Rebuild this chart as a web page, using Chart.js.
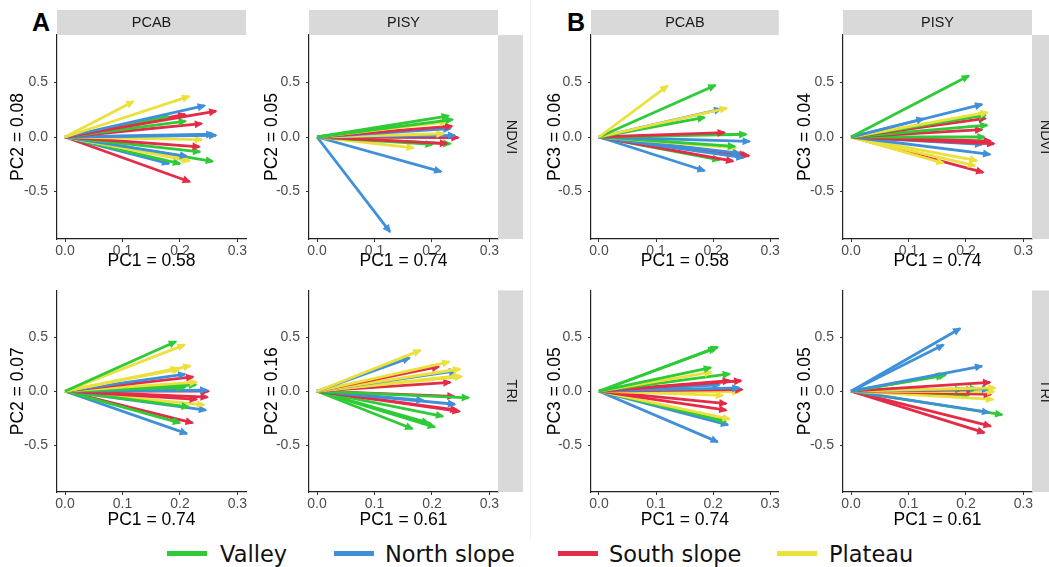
<!DOCTYPE html>
<html lang="en">
<head>
<meta charset="UTF-8">
<title>PCA loadings by site</title>
<script src="https://cdn.jsdelivr.net/npm/chart.js"></script>
<style>
    body {
        margin: 0;
        background: #fff;
        width: 1049px;
        height: 567px;
        position: relative;
        overflow: hidden;
        font-family: 'Liberation Sans', Arial, sans-serif;
    }
    canvas {
        position: absolute;
    }
    .tag {
        position: absolute;
        font-size: 25px;
        line-height: 25px;
        font-weight: bold;
        color: #000;
    }
    .sep {
        position: absolute;
        left: 530px;
        top: 0;
        width: 1px;
        height: 540px;
        background: #efefef;
    }
    .key {
        position: absolute;
        top: 551px;
        width: 40px;
        height: 5px;
    }
    .keytxt {
        position: absolute;
        top: 541px;
        font-family: 'DejaVu Sans', sans-serif;
        font-size: 22.5px;
        line-height: 26px;
        color: #111;
        white-space: nowrap;
    }
</style>
</head>
<body>
<div class="sep"></div>
<div class="tag" style="left:32px; top:10px;">A</div>
<div class="tag" style="left:567px; top:10px;">B</div>

<canvas id="a1" width="250" height="276" style="left:0px; top:0px;"></canvas>
<canvas id="a2" width="280" height="276" style="left:250px; top:0px;"></canvas>
<canvas id="a3" width="250" height="258" style="left:0px; top:276px;"></canvas>
<canvas id="a4" width="280" height="258" style="left:250px; top:276px;"></canvas>
<canvas id="b1" width="250" height="276" style="left:531px; top:0px;"></canvas>
<canvas id="b2" width="268" height="276" style="left:781px; top:0px;"></canvas>
<canvas id="b3" width="250" height="258" style="left:531px; top:276px;"></canvas>
<canvas id="b4" width="268" height="258" style="left:781px; top:276px;"></canvas>

<div id="legend"></div>

<script>
// site groups and their colours
const groupNames = ['Valley', 'North slope', 'South slope', 'Plateau'];
const groupColors = ['#2ecb36', '#3f8fd9', '#e42b47', '#ece03c'];

// axis ticks
const xTickVals = [0, 0.1, 0.2, 0.3];
const xTickLabels = ['0.0', '0.1', '0.2', '0.3'];
const yTickVals = [-0.5, 0, 0.5];
const yTickLabels = ['-0.5', '0.0', '0.5'];

// loadings: [group index, PC1, second component]
// A: PC1 vs PC2
const aPcabNdvi = [
    [3, 0.119, 0.326], [3, 0.216, 0.372], [1, 0.243, 0.287], [2, 0.263, 0.238],
    [0, 0.180, 0.190], [2, 0.209, 0.207], [0, 0.210, 0.146], [2, 0.238, 0.122],
    [1, 0.263, 0.015], [1, 0.258, 0.025], [3, 0.238, -0.024], [2, 0.234, -0.090],
    [0, 0.235, -0.137], [1, 0.212, -0.177], [3, 0.217, -0.220], [3, 0.214, -0.205],
    [0, 0.257, -0.223], [0, 0.200, -0.244], [1, 0.181, -0.244], [2, 0.217, -0.410]
];
const aPisyNdvi = [
    [0, 0.229, 0.194], [0, 0.236, 0.160], [3, 0.226, 0.139], [2, 0.235, 0.099],
    [1, 0.232, 0.077], [3, 0.220, 0.030], [1, 0.240, 0.015], [2, 0.246, -0.006],
    [2, 0.226, -0.060], [0, 0.232, -0.062], [0, 0.201, -0.068], [3, 0.168, -0.099],
    [1, 0.216, -0.318], [1, 0.127, -0.870]
];
const aPcabTri = [
    [0, 0.193, 0.461], [3, 0.208, 0.430], [3, 0.218, 0.236], [3, 0.200, 0.206],
    [3, 0.196, 0.212], [1, 0.209, 0.158], [2, 0.223, 0.133], [3, 0.229, 0.085],
    [0, 0.228, 0.060], [0, 0.206, 0.036], [0, 0.210, 0.040], [1, 0.247, 0.009],
    [2, 0.250, 0.000], [2, 0.248, -0.055], [2, 0.229, -0.076], [0, 0.215, -0.145],
    [3, 0.242, -0.127], [1, 0.245, -0.176], [0, 0.200, -0.294], [2, 0.222, -0.294],
    [1, 0.212, -0.394]
];
const aPisyTri = [
    [3, 0.180, 0.379], [1, 0.161, 0.309], [3, 0.230, 0.273], [2, 0.212, 0.227],
    [3, 0.249, 0.206], [1, 0.242, 0.188], [3, 0.252, 0.136], [3, 0.248, 0.145],
    [2, 0.232, 0.082], [0, 0.264, -0.061], [2, 0.239, -0.048], [1, 0.185, -0.085],
    [1, 0.240, -0.121], [2, 0.248, -0.188], [2, 0.244, -0.175], [0, 0.219, -0.233],
    [0, 0.194, -0.294], [0, 0.205, -0.333], [0, 0.166, -0.348]
];
// B: PC1 vs PC3
const bPcabNdvi = [
    [3, 0.120, 0.469], [0, 0.204, 0.475], [3, 0.224, 0.265], [1, 0.214, 0.256],
    [0, 0.185, 0.179], [2, 0.220, 0.040], [0, 0.258, 0.025], [1, 0.264, -0.040],
    [0, 0.238, -0.086], [3, 0.240, -0.100], [1, 0.246, -0.148], [1, 0.253, -0.190],
    [2, 0.263, -0.173], [2, 0.258, -0.165], [2, 0.235, -0.222], [0, 0.211, -0.210],
    [1, 0.185, -0.309]
];
const bPisyNdvi = [
    [0, 0.205, 0.562], [1, 0.228, 0.299], [1, 0.126, 0.167], [3, 0.237, 0.225],
    [0, 0.234, 0.200], [2, 0.234, 0.170], [0, 0.237, 0.108], [2, 0.228, 0.068],
    [0, 0.232, 0.000], [2, 0.243, -0.037], [2, 0.249, -0.062], [1, 0.228, -0.068],
    [1, 0.242, -0.160], [3, 0.161, -0.240], [3, 0.219, -0.216], [3, 0.216, -0.262],
    [2, 0.230, -0.324]
];
const bPcabTri = [
    [0, 0.208, 0.409], [0, 0.204, 0.400], [0, 0.196, 0.218], [3, 0.197, 0.176],
    [0, 0.229, 0.161], [2, 0.249, 0.097], [2, 0.229, 0.097], [1, 0.211, 0.060],
    [1, 0.246, 0.030], [2, 0.251, 0.015], [3, 0.246, -0.006], [3, 0.217, -0.039],
    [2, 0.223, -0.115], [2, 0.223, -0.176], [3, 0.229, -0.258], [0, 0.222, -0.279],
    [1, 0.226, -0.312], [1, 0.208, -0.470]
];
const bPisyTri = [
    [1, 0.190, 0.582], [1, 0.161, 0.430], [1, 0.228, 0.233], [0, 0.165, 0.152],
    [0, 0.160, 0.145], [2, 0.242, 0.082], [3, 0.251, 0.030], [1, 0.240, 0.021],
    [0, 0.219, 0.024], [2, 0.213, 0.012], [0, 0.193, 0.015], [3, 0.249, -0.006],
    [2, 0.243, -0.030], [3, 0.247, -0.076], [0, 0.205, -0.036], [1, 0.240, -0.197],
    [0, 0.263, -0.218], [2, 0.243, -0.324], [2, 0.232, -0.385]
];

// facet panels: box sizes are in px of each canvas
const panels = [
    { id: 'a1', rows: aPcabNdvi, yTitle: 'PC2 = 0.08', xTitle: 'PC1 = 0.58', top: 'PCAB', side: null,   yw: 57, ytp: 8,  padR: 4,  padT: 35, xh: 34, padB: 3 },
    { id: 'a2', rows: aPisyNdvi, yTitle: 'PC2 = 0.05', xTitle: 'PC1 = 0.74', top: 'PISY', side: 'NDVI', yw: 59, ytp: 12, padR: 32, padT: 35, xh: 34, padB: 3 },
    { id: 'a3', rows: aPcabTri,  yTitle: 'PC2 = 0.07', xTitle: 'PC1 = 0.74', top: null,   side: null,   yw: 57, ytp: 8,  padR: 4,  padT: 12, xh: 40, padB: 2 },
    { id: 'a4', rows: aPisyTri,  yTitle: 'PC2 = 0.16', xTitle: 'PC1 = 0.61', top: null,   side: 'TRI',  yw: 59, ytp: 12, padR: 32, padT: 12, xh: 40, padB: 2 },
    { id: 'b1', rows: bPcabNdvi, yTitle: 'PC3 = 0.06', xTitle: 'PC1 = 0.58', top: 'PCAB', side: null,   yw: 60, ytp: 14, padR: 2,  padT: 35, xh: 34, padB: 3 },
    { id: 'b2', rows: bPisyNdvi, yTitle: 'PC3 = 0.04', xTitle: 'PC1 = 0.74', top: 'PISY', side: 'NDVI', yw: 62, ytp: 14, padR: 17, padT: 35, xh: 34, padB: 3 },
    { id: 'b3', rows: bPcabTri,  yTitle: 'PC3 = 0.05', xTitle: 'PC1 = 0.74', top: null,   side: null,   yw: 60, ytp: 14, padR: 2,  padT: 12, xh: 40, padB: 2 },
    { id: 'b4', rows: bPisyTri,  yTitle: 'PC3 = 0.05', xTitle: 'PC1 = 0.61', top: null,   side: 'TRI',  yw: 62, ytp: 14, padR: 17, padT: 12, xh: 40, padB: 2 }
];

// closed arrow head at the end of every segment
const arrowHeads = {
    id: 'arrowHeads',
    afterDatasetDraw(chart, args) {
        const pts = args.meta.data;
        if (pts.length < 2) return;
        const a = pts[0], b = pts[1];
        const ang = Math.atan2(b.y - a.y, b.x - a.x);
        const ctx = chart.ctx;
        ctx.save();
        ctx.translate(b.x, b.y);
        ctx.rotate(ang);
        ctx.beginPath();
        ctx.moveTo(1.5, 0);
        ctx.lineTo(-7, 4);
        ctx.lineTo(-7, -4);
        ctx.closePath();
        ctx.fillStyle = chart.data.datasets[args.index].borderColor;
        ctx.fill();
        ctx.restore();
    }
};

// grey facet strips (top = species, right = index)
const facetStrips = {
    id: 'facetStrips',
    afterDraw(chart, args, opts) {
        const { ctx, chartArea: ca } = chart;
        ctx.save();
        ctx.font = '14.5px "Liberation Sans", Arial, sans-serif';
        ctx.textAlign = 'center';
        ctx.textBaseline = 'middle';
        if (opts.top) {
            ctx.fillStyle = '#d9d9d9';
            ctx.fillRect(ca.left, ca.top - 25, ca.right - ca.left, 25);
            ctx.fillStyle = '#1a1a1a';
            ctx.fillText(opts.top, (ca.left + ca.right) / 2, ca.top - 12);
        }
        if (opts.side) {
            ctx.fillStyle = '#d9d9d9';
            ctx.fillRect(ca.right, ca.top, 25, ca.bottom - ca.top);
            ctx.translate(ca.right + 13, (ca.top + ca.bottom) / 2);
            ctx.rotate(Math.PI / 2);
            ctx.fillStyle = '#1a1a1a';
            ctx.fillText(opts.side, 0, 0);
        }
        ctx.restore();
    }
};

const tickFont = { family: '"Liberation Sans", Arial, sans-serif', size: 14 };
const titleFont = { family: '"Liberation Sans", Arial, sans-serif', size: 17.5 };

panels.forEach(p => {
    const datasets = p.rows.map(r => ({
        data: [{ x: 0, y: 0 }, { x: r[1], y: r[2] }],
        showLine: true,
        borderColor: groupColors[r[0]],
        borderWidth: 2.8,
        pointRadius: 0,
        borderCapStyle: 'butt'
    }));

    new Chart(document.getElementById(p.id), {
        type: 'scatter',
        data: { datasets },
        options: {
            responsive: false,
            animation: false,
            devicePixelRatio: 1,
            layout: { padding: { left: 0, right: p.padR, top: p.padT, bottom: p.padB } },
            plugins: {
                legend: { display: false },
                tooltip: { enabled: false },
                facetStrips: { top: p.top, side: p.side }
            },
            scales: {
                x: {
                    type: 'linear',
                    min: -0.014,
                    max: 0.315,
                    afterBuildTicks: s => { s.ticks = xTickVals.map(v => ({ value: v })); },
                    afterFit: s => { s.height = p.xh; },
                    ticks: {
                        callback: (v, i) => xTickLabels[i],
                        color: '#4d4d4d',
                        font: tickFont,
                        padding: 1,
                        maxRotation: 0,
                        autoSkip: false
                    },
                    grid: { display: true, drawOnChartArea: false, drawTicks: true, tickLength: 3, color: '#333' },
                    border: { display: true, color: '#222', width: 1.2 },
                    title: { display: true, text: p.xTitle, color: '#000', font: titleFont, padding: { top: 0, bottom: 1 } }
                },
                y: {
                    type: 'linear',
                    min: -0.935,
                    max: 0.935,
                    afterBuildTicks: s => { s.ticks = yTickVals.map(v => ({ value: v })); },
                    afterFit: s => { s.width = p.yw; },
                    ticks: {
                        callback: (v, i) => yTickLabels[i],
                        color: '#4d4d4d',
                        font: tickFont,
                        padding: 6,
                        autoSkip: false
                    },
                    grid: { display: true, drawOnChartArea: false, drawTicks: true, tickLength: 3, color: '#333' },
                    border: { display: true, color: '#222', width: 1.2 },
                    title: { display: true, text: p.yTitle, color: '#000', font: titleFont, padding: { top: p.ytp, bottom: 0 } }
                }
            }
        },
        plugins: [arrowHeads, facetStrips]
    });
});

// shared legend along the bottom
const keyLeft = [167, 334, 558, 777];
const txtLeft = [220, 385, 609, 829];
const legend = document.getElementById('legend');
groupNames.forEach((name, i) => {
    const sw = document.createElement('div');
    sw.className = 'key';
    sw.style.left = keyLeft[i] + 'px';
    sw.style.background = groupColors[i];
    legend.appendChild(sw);
    const t = document.createElement('div');
    t.className = 'keytxt';
    t.style.left = txtLeft[i] + 'px';
    t.textContent = name;
    legend.appendChild(t);
});
</script>
</body>
</html>
